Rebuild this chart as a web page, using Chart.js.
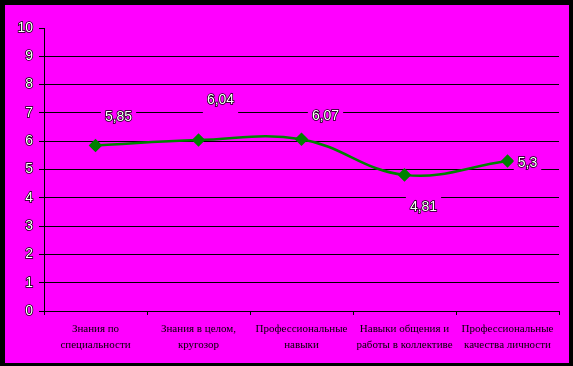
<!DOCTYPE html>
<html><head><meta charset="utf-8">
<script src="https://cdn.jsdelivr.net/npm/chart.js@4"></script>
<style>html,body{margin:0;padding:0;background:#000;overflow:hidden}</style>
</head><body>
<canvas id="c" width="573" height="366"></canvas>
<script>
const categories = [
  ["Знания по", "специальности"],
  ["Знания в целом,", "кругозор"],
  ["Профессиональные", "навыки"],
  ["Навыки общения и", "работы в коллективе"],
  ["Профессиональные", "качества личности"]
];
const values = [5.85, 6.04, 6.07, 4.81, 5.3];
const valueLabels = ["5,85", "6,04", "6,07", "4,81", "5,3"];
const yTickLabels = ["0","1","2","3","4","5","6","7","8","9","10"];

const labelOffsets = [[23,-28],[22,-40],[24,-23],[19,32],[20,2]];

const bgPlugin = {
  id: 'bg',
  beforeDraw(chart) {
    const ctx = chart.ctx;
    ctx.save();
    ctx.fillStyle = '#000';
    ctx.fillRect(0, 0, chart.width, chart.height);
    ctx.fillStyle = '#ff00ff';
    ctx.fillRect(5, 5, 564, 358);
    ctx.restore();
  }
};

const labelPlugin = {
  id: 'vlabels',
  afterDatasetsDraw(chart) {
    const ctx = chart.ctx;
    const meta = chart.getDatasetMeta(0);
    ctx.save();
    ctx.font = '14px "Liberation Sans", Arial, sans-serif';
    ctx.textAlign = 'center';
    ctx.textBaseline = 'middle';
    meta.data.forEach((pt, i) => {
      const x = pt.x + labelOffsets[i][0];
      const y = pt.y + labelOffsets[i][1];
      const t = valueLabels[i];
      const w = ctx.measureText(t).width;
      ctx.fillStyle = '#ff00ff';
      ctx.fillRect(x - w/2 - 4, y - 15, w + 8, 30);
      ctx.lineWidth = 1.5;
      ctx.strokeStyle = '#000';
      ctx.strokeText(t, x, y);
      ctx.fillStyle = '#fff';
      ctx.fillText(t, x, y);
    });
    ctx.restore();
  }
};

new Chart(document.getElementById('c'), {
  type: 'line',
  data: {
    labels: categories,
    datasets: [{
      data: values,
      borderColor: '#008000',
      borderWidth: 2.5,
      tension: 0.4,
      fill: false,
      pointStyle: 'rectRot',
      pointRadius: 5,
      pointBackgroundColor: '#008000',
      pointBorderColor: '#008000'
    }]
  },
  options: {
    responsive: false,
    animation: false,
    devicePixelRatio: 1,
    layout: { padding: { left: 0, right: 14, top: 28, bottom: 0 } },
    plugins: { legend: { display: false }, tooltip: { enabled: false } },
    scales: {
      x: {
        offset: true,
        grid: { offset: true, drawOnChartArea: false, color: '#000', tickColor: '#000', tickLength: 4, lineWidth: 1 },
        border: { color: '#000', width: 1 },
        ticks: {
          color: '#000', autoSkip: false, maxRotation: 0, padding: 6,
          font: { family: '"Liberation Serif", "Times New Roman", serif', size: 11, lineHeight: 1.45 }
        },
        afterFit(s) { s.height = 55; }
      },
      y: {
        min: 0, max: 10,
        grid: {
          color: (c) => (c.tick && c.tick.value === 10) ? 'rgba(0,0,0,0)' : '#000',
          tickColor: '#000', tickLength: 5, lineWidth: 1
        },
        border: { color: '#000', width: 1 },
        ticks: {
          stepSize: 1, padding: 6, color: '#fff',
          textStrokeColor: '#000', textStrokeWidth: 1.5,
          font: { family: '"Liberation Sans", Arial, sans-serif', size: 14 },
          callback: (v, i) => yTickLabels[i]
        },
        afterFit(s) { s.width = 44; }
      }
    }
  },
  plugins: [bgPlugin, labelPlugin]
});
</script>
</body></html>
